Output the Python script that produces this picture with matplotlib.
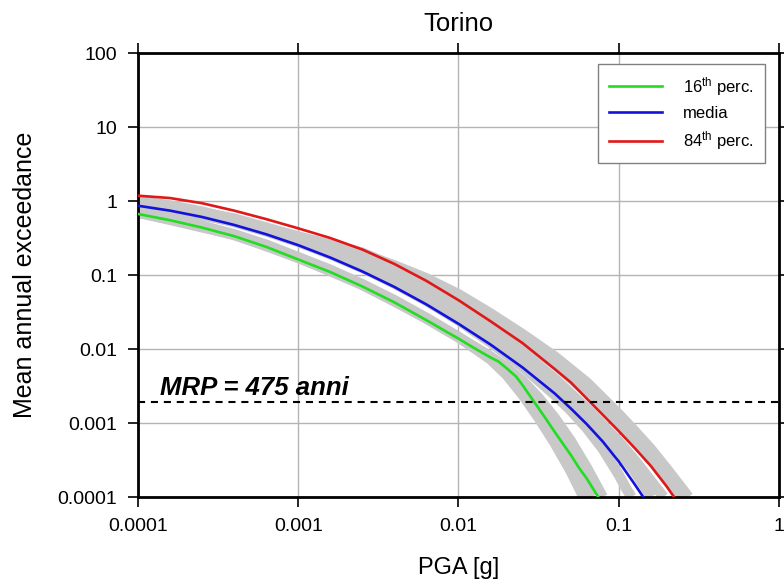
import matplotlib
matplotlib.use("Agg")
import matplotlib.pyplot as plt
from matplotlib import font_manager

fams = {f.name for f in font_manager.fontManager.ttflist}
base = [f for f in ['Liberation Sans', 'DejaVu Sans'] if f in fams] or ['DejaVu Sans']
plt.rcParams['font.family'] = base
plt.rcParams['mathtext.fontset'] = 'custom'
plt.rcParams['mathtext.rm'] = base[0]
plt.rcParams['mathtext.it'] = base[0] + ':italic'
plt.rcParams['mathtext.bf'] = base[0] + ':bold'

# ---- data ----
red_x = [1e-4, 1.585e-4, 2.512e-4, 3.981e-4, 6.31e-4, 1e-3, 1.585e-3, 2.512e-3, 3.981e-3,
         6.31e-3, 1e-2, 1.585e-2, 2.512e-2, 3.981e-2, 5.012e-2, 6.31e-2, 7.943e-2, 0.1,
         0.1259, 0.1585, 0.1995, 0.2213]
red_y = [1.18, 1.096, 0.933, 0.741, 0.569, 0.427, 0.316, 0.221, 0.141, 0.0832, 0.0457,
         0.0237, 0.012, 0.00537, 0.00355, 0.00214, 0.00129, 0.000776, 0.000457,
         0.000263, 0.000138, 0.0001]

blue_x = [1e-4, 1.585e-4, 2.512e-4, 3.981e-4, 6.31e-4, 1e-3, 1.585e-3, 2.512e-3, 3.981e-3,
          6.31e-3, 1e-2, 1.585e-2, 2.512e-2, 3.981e-2, 5.012e-2, 6.31e-2, 7.943e-2, 0.1,
          0.1259, 0.1422]
blue_y = [0.863, 0.741, 0.608, 0.475, 0.355, 0.253, 0.172, 0.1117, 0.0689, 0.04, 0.0219,
          0.01148, 0.00562, 0.00251, 0.00158, 0.000966, 0.000562, 0.000302, 0.000148,
          0.0001]

green_x = [1e-4, 1.585e-4, 2.512e-4, 3.981e-4, 6.31e-4, 1e-3, 1.585e-3, 2.512e-3, 3.981e-3,
           6.31e-3, 1e-2, 1.259e-2, 1.585e-2, 1.778e-2, 1.995e-2, 2.291e-2, 2.512e-2,
           2.818e-2, 3.162e-2, 3.548e-2, 3.981e-2, 4.467e-2, 5.012e-2, 5.623e-2, 6.31e-2,
           7.447e-2]
green_y = [0.668, 0.55, 0.437, 0.335, 0.24, 0.162, 0.1096, 0.07, 0.0427, 0.0245, 0.0138,
           0.01023, 0.00767, 0.00676, 0.0055, 0.00423, 0.00324, 0.00226, 0.00158, 0.0011,
           0.000759, 0.000531, 0.000372, 0.000251, 0.000178, 0.0001]

# grey logic-tree branches
branch1_x = [1e-4, 1.585e-4, 2.512e-4, 3.981e-4, 6.31e-4, 1e-3, 1.585e-3, 2.512e-3,
             3.981e-3, 6.31e-3, 1e-2, 1.585e-2, 1.995e-2, 2.512e-2, 3.162e-2, 3.981e-2,
             5.012e-2, 6.026e-2]
branch1_y = [0.708, 0.582, 0.462, 0.355, 0.257, 0.174, 0.1175, 0.075, 0.0457, 0.0263,
             0.01445, 0.00724, 0.00447, 0.0024, 0.001175, 0.000537, 0.000224, 0.0001]
branch2_x = [1e-4, 1.585e-4, 2.512e-4, 3.981e-4, 6.31e-4, 1e-3, 1.585e-3, 2.512e-3,
             3.981e-3, 6.31e-3, 1e-2, 1.585e-2, 1.995e-2, 2.512e-2, 3.162e-2, 3.981e-2,
             5.012e-2, 6.31e-2, 7.943e-2]
branch2_y = [0.692, 0.569, 0.452, 0.347, 0.251, 0.17, 0.1148, 0.0733, 0.0447, 0.0257,
             0.01445, 0.00794, 0.00562, 0.00372, 0.00219, 0.001175, 0.000575, 0.000251,
             0.0001]
branch3_x = [1e-4, 1.585e-4, 2.512e-4, 3.981e-4, 6.31e-4, 1e-3, 1.585e-3, 2.512e-3,
             3.981e-3, 6.31e-3, 1e-2, 1.585e-2, 2.512e-2, 3.981e-2, 5.012e-2, 6.31e-2,
             7.943e-2, 0.1, 0.1122, 0.1202]
branch3_y = [0.933, 0.804, 0.661, 0.519, 0.389, 0.279, 0.1905, 0.1245, 0.0767, 0.0447,
             0.0243, 0.0123, 0.00575, 0.0024, 0.00148, 0.000851, 0.000447, 0.0002,
             0.000126, 0.0001]
branch4_x = [1e-4, 1.585e-4, 2.512e-4, 3.981e-4, 6.31e-4, 1e-3, 1.585e-3, 2.512e-3,
             3.981e-3, 6.31e-3, 1e-2, 1.585e-2, 2.512e-2, 3.981e-2, 6.31e-2, 0.1, 0.1259,
             0.1585, 0.1905]
branch4_y = [1.0, 0.87, 0.72, 0.56, 0.41, 0.31, 0.225, 0.152, 0.098, 0.06,
             0.0355, 0.0186, 0.00912, 0.00398, 0.00158, 0.000562, 0.000316, 0.000166,
             0.0001]
branch5_x = [1e-4, 3.981e-4, 1e-3, 2.512e-3, 3.981e-3, 6.31e-3, 1e-2, 1.585e-2, 2.512e-2,
             3.981e-2, 6.31e-2, 0.1, 0.1259, 0.1585, 0.1995, 0.2512, 0.2723]
branch5_y = [1.0, 0.58, 0.33, 0.19, 0.135, 0.09, 0.055, 0.0302, 0.01585, 0.00794, 0.00355,
             0.00132, 0.000776, 0.000447, 0.00024, 0.000126, 0.0001]
branch6_x = [1e-4, 3.981e-4, 1e-3, 2.512e-3, 6.31e-3, 1e-2, 1.585e-2, 2.512e-2, 3.981e-2,
             6.31e-2, 0.1, 0.1585, 0.2455]
branch6_y = [0.98, 0.56, 0.33, 0.2, 0.085, 0.048, 0.026, 0.0135, 0.0062, 0.0026,
             0.00098, 0.00032, 0.0001]
branch7_x = [1e-4, 3.981e-4, 1e-3, 2.512e-3, 6.31e-3, 1e-2, 1.585e-2, 2.512e-2, 3.981e-2,
             6.31e-2, 0.1, 0.1259, 0.16]
branch7_y = [0.94, 0.53, 0.29, 0.13, 0.047, 0.026, 0.0135, 0.0068, 0.0031, 0.0013,
             0.00042, 0.00022, 0.0001]
branch8_x = [1e-4, 3.981e-4, 1e-3, 2.512e-3, 6.31e-3, 1e-2, 1.585e-2, 1.995e-2, 2.512e-2,
             3.162e-2, 3.981e-2, 5.012e-2, 6.8e-2]
branch8_y = [0.70, 0.35, 0.172, 0.074, 0.026, 0.01445, 0.0076, 0.005, 0.003, 0.0016,
             0.00076, 0.00033, 0.0001]

branches = [(branch1_x, branch1_y), (branch2_x, branch2_y), (branch3_x, branch3_y),
            (branch4_x, branch4_y), (branch5_x, branch5_y), (branch6_x, branch6_y),
            (branch7_x, branch7_y), (branch8_x, branch8_y)]

mrp_level = 0.0019
mrp_label = 'MRP = 475 anni'
xticks = [1e-4, 1e-3, 1e-2, 1e-1, 1]
xtick_labels = ['0.0001', '0.001', '0.01', '0.1', '1']
yticks = [1e-4, 1e-3, 1e-2, 1e-1, 1, 10, 100]
ytick_labels = ['0.0001', '0.001', '0.01', '0.1', '1', '10', '100']

fig = plt.figure(figsize=(7.84, 5.82), dpi=100)
ax = fig.add_axes([138/784, 1-497/582, (779-138)/784, (497-53)/582])
ax.set_xscale('log')
ax.set_yscale('log')
ax.set_xlim(1e-4, 1)
ax.set_ylim(1e-4, 100)

for bx, by in branches:
    ax.plot(bx, by, color='#c8c8c8', lw=7.5, solid_capstyle='butt',
            solid_joinstyle='round', zorder=2)

ax.plot(green_x, green_y, color='#22dd22', lw=1.9, label='16$^{\\rm th}$ perc.', zorder=3)
ax.plot(blue_x, blue_y, color='#1212dd', lw=1.9, label='media', zorder=3)
ax.plot(red_x, red_y, color='#e01818', lw=1.9, label='84$^{\\rm th}$ perc.', zorder=3)

ax.axhline(mrp_level, color='black', lw=1.5, ls=(0, (3.4, 2.8)), zorder=4)
ax.text(1.37e-4, 0.00239, mrp_label, fontsize=18.5, fontweight='bold',
        fontstyle='italic', va='baseline', ha='left', zorder=5)

ax.grid(True, which='major', color='#b4b4b4', lw=1)
ax.minorticks_off()
ax.set_xticks(xticks)
ax.set_xticklabels(xtick_labels)
ax.set_yticks(yticks)
ax.set_yticklabels(ytick_labels)
ax.tick_params(which='major', direction='out', length=7, width=1.2, labelsize=14,
               top=True, right=True)
ax.tick_params(axis='y', pad=8)
ax.tick_params(axis='x', pad=8)
for s in ax.spines.values():
    s.set_linewidth(2)

ax.set_title('Torino', fontsize=18.5, pad=16)
ax.set_xlabel('PGA [g]', fontsize=17, labelpad=16)
ax.set_ylabel('Mean annual exceedance', fontsize=18, labelpad=15)

leg = ax.legend(loc='upper left', bbox_to_anchor=(0.7176, 0.9752), borderaxespad=0,
                fontsize=12, frameon=True, fancybox=False, edgecolor='#808080',
                framealpha=1, handlelength=3.2, handletextpad=1.25, borderpad=0.65,
                labelspacing=0.5)
leg.get_frame().set_linewidth(1)

fig.savefig('out.png', dpi=100)
